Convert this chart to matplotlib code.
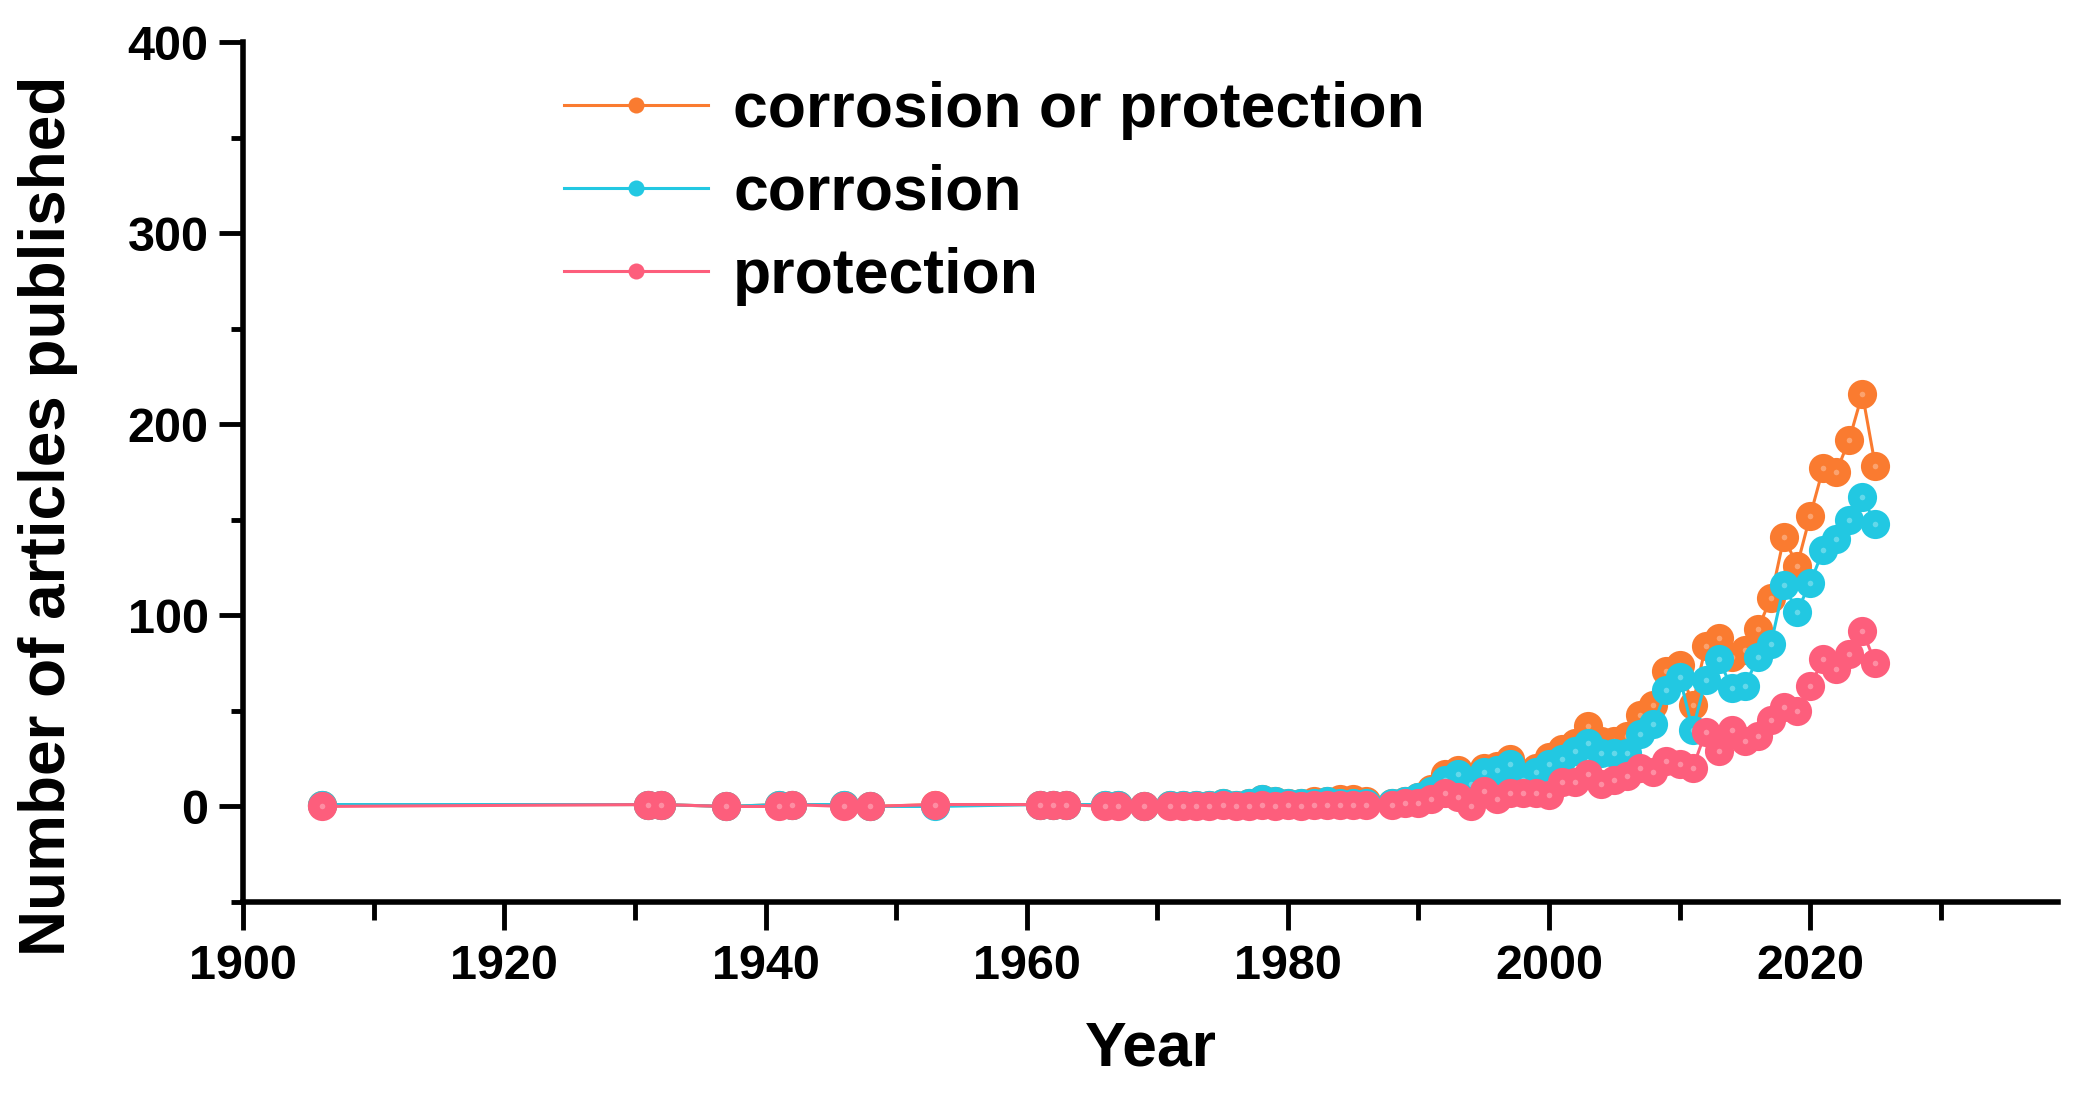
import matplotlib
matplotlib.use('Agg')
from matplotlib import pyplot as plt
from matplotlib.ticker import MultipleLocator

# years with at least one publication
years = [1906, 1931, 1932, 1937, 1941, 1942, 1946, 1948, 1953, 1961, 1962, 1963, 1966, 1967, 1969,
         1971, 1972, 1973, 1974, 1975, 1976, 1977, 1978, 1979, 1980, 1981, 1982, 1983, 1984, 1985, 1986,
         1988, 1989, 1990, 1991, 1992, 1993, 1994, 1995, 1996, 1997, 1998, 1999, 2000, 2001, 2002, 2003,
         2004, 2005, 2006, 2007, 2008, 2009, 2010, 2011, 2012, 2013, 2014, 2015, 2016, 2017, 2018, 2019,
         2020, 2021, 2022, 2023, 2024, 2025]

corr_or_prot = [1, 1, 1, 0, 1, 1, 1, 0, 1, 1, 1, 1, 1, 1, 0,
                1, 1, 1, 1, 2, 1, 2, 4, 3, 2, 2, 3, 3, 4, 4, 3,
                2, 3, 5, 9, 17, 19, 13, 20, 21, 25, 16, 20, 26, 30, 33, 42,
                34, 34, 37, 48, 53, 71, 74, 53, 84, 88, 78, 82, 93, 109, 141, 126,
                152, 177, 175, 192, 216, 178]

corrosion = [1, 1, 1, 0, 1, 1, 1, 0, 0, 1, 1, 1, 1, 1, 0,
             1, 1, 1, 1, 2, 1, 2, 4, 3, 2, 2, 2, 3, 2, 2, 2,
             2, 3, 5, 8, 14, 17, 12, 18, 19, 22, 14, 18, 22, 25, 29, 33,
             28, 28, 28, 38, 43, 61, 68, 40, 66, 77, 62, 63, 78, 85, 116, 102,
             117, 134, 140, 150, 162, 148]

protection = [0, 1, 1, 0, 0, 1, 0, 0, 1, 1, 1, 1, 0, 0, 0,
              0, 0, 0, 0, 1, 0, 0, 1, 0, 1, 0, 1, 1, 1, 1, 1,
              1, 2, 2, 4, 7, 5, 0, 8, 4, 7, 7, 7, 6, 13, 13, 17,
              12, 14, 16, 20, 18, 24, 22, 20, 39, 29, 40, 34, 37, 45, 52, 50,
              63, 77, 72, 80, 92, 75]

labels = ['corrosion or protection', 'corrosion', 'protection']
colors = ['#FA7B30', '#22C8E2', '#FD5E7C']
series = [corr_or_prot, corrosion, protection]

plt.rcParams['font.family'] = ['Liberation Sans', 'DejaVu Sans']
plt.rcParams['font.weight'] = 'bold'

fig = plt.figure(figsize=(20.79, 10.94), dpi=100)
ax = fig.add_axes([0.117, 0.1755, 0.873, 0.786])

for vals, lab, col in zip(series, labels, colors):
    ax.plot(years, vals, '-o', color=col, lw=2.2, markersize=21, markeredgewidth=0, label=lab)
    ax.plot(years, vals, 'o', color='white', alpha=0.3, markersize=4, markeredgewidth=0)

ax.set_xlim(1900, 2039)
ax.set_ylim(-50, 400)
ax.xaxis.set_major_locator(MultipleLocator(20))
ax.xaxis.set_minor_locator(MultipleLocator(10))
ax.set_yticks([0, 100, 200, 300, 400])
ax.set_yticks([-50, 50, 150, 250, 350], minor=True)

for s in ['top', 'right']:
    ax.spines[s].set_visible(False)
for s in ['left', 'bottom']:
    ax.spines[s].set_linewidth(4)

ax.tick_params(which='major', direction='out', length=17, width=3.5, labelsize=35, pad=8)
ax.tick_params(which='minor', direction='out', length=9, width=3.5)
ax.tick_params(axis='x', which='major', length=20, pad=10)
ax.tick_params(axis='x', which='minor', length=13)

ax.set_xlabel('Year', fontsize=45, fontweight='bold', labelpad=22)
ax.set_ylabel('Number of articles published', fontsize=46, fontweight='bold')
ax.yaxis.set_label_coords(-0.091, 0.449)

leg = ax.legend(loc='upper left', bbox_to_anchor=(0.146, 1.02), frameon=False, fontsize=45,
                handlelength=2.3, handletextpad=0.4, labelspacing=0.38, markerscale=0.55)

fig.savefig('out.png', dpi=100)
